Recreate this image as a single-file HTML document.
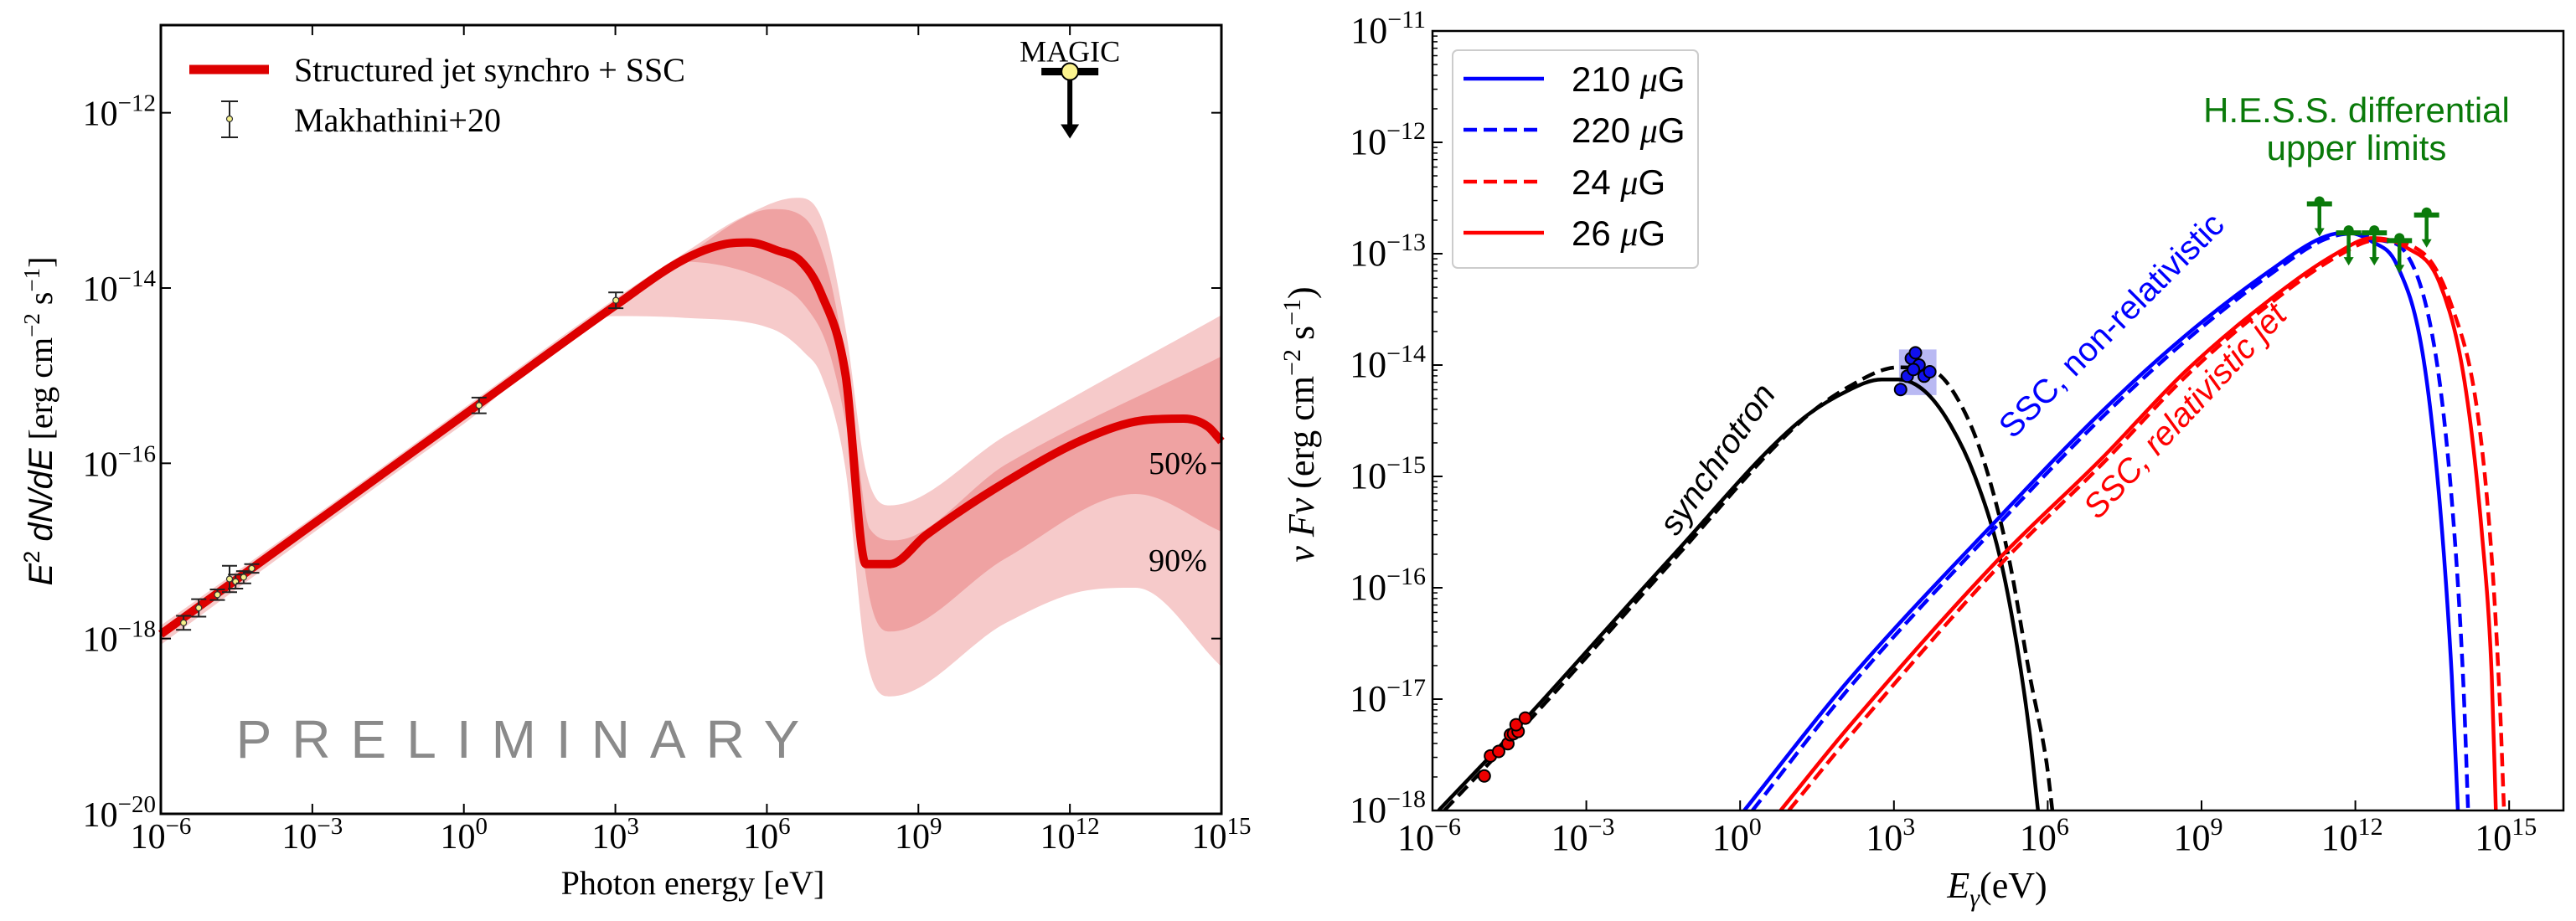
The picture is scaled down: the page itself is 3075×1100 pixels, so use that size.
<!DOCTYPE html>
<html><head><meta charset="utf-8"><style>
html,body{margin:0;padding:0;background:#fff}
svg{display:block}
.serif{font-family:"Liberation Serif",serif}
.sans{font-family:"Liberation Sans",sans-serif}
.narrow{font-family:"Liberation Sans Narrow","Liberation Sans",sans-serif}
</style></head><body>
<svg id="fig" class="serif" width="3075" height="1100" viewBox="0 0 3075 1100" xmlns="http://www.w3.org/2000/svg">
<g id="left"></g>
<g id="right"></g>
</svg>
<script>
// ---------- LEFT CHART DATA ----------
const L_curveE=[-6,-3,0,3.0,4.37,5.16,5.64,6.2,6.68,7.08,7.56,7.96,8.44,9.15,10.74,12.34,13.45,14.25,14.73,15];
const L_curveF=[-17.95,-16.7,-15.45,-14.2,-13.67,-13.5,-13.48,-13.57,-13.7,-14.07,-15.0,-17.15,-17.15,-16.82,-16.21,-15.71,-15.51,-15.49,-15.58,-15.75];
const L_up90E=[-6,-3,0,3,4.37,5.48,6.6,7.08,7.56,7.96,8.44,10.74,15];
const L_up90F=[-17.85,-16.62,-15.37,-14.12,-13.6,-13.2,-12.97,-13.2,-14.47,-16.08,-16.48,-15.68,-14.31];
const L_lo90E=[-6,-3,0,3,4.37,6.12,6.75,7.08,7.56,7.96,8.44,10.74,12.34,13.3,15];
const L_lo90F=[-18.07,-16.8,-15.55,-14.32,-14.34,-14.47,-14.74,-15.0,-16.08,-18.19,-18.66,-17.82,-17.45,-17.42,-18.32];
const L_up50E=[3,4.37,6.12,6.75,7.24,7.64,8.04,8.52,10.74,15];
const L_up50F=[-14.18,-13.64,-13.1,-13.2,-13.87,-15.14,-16.75,-16.88,-16.01,-14.78];
const L_lo50E=[3,4.37,6.12,6.75,7.24,7.64,8.04,8.44,10.74,13.3,15];
const L_lo50F=[-14.22,-13.7,-13.94,-14.2,-14.74,-15.81,-17.55,-17.92,-17.08,-16.35,-16.78];
const L_dataE=[-5.55,-5.25,-4.88,-4.64,-4.52,-4.36,-4.2,0.3,3.01];
const L_dataF=[-17.82,-17.65,-17.5,-17.32,-17.35,-17.3,-17.2,-15.34,-14.14];
const L_dataErr=[0.08,0.1,0.06,0.15,0.08,0.07,0.05,0.09,0.09];
const L_magicE=[12.0];
const L_magicF=[-11.53];
const L_xTicks=[-6,-3,0,3,6,9,12,15];
const L_yTicks=[-20,-18,-16,-14,-12];

// ---------- RIGHT CHART DATA ----------
const R_syncE=[-5.88,-4.15,-1.35,1.12,2.1,2.76,3.09,3.59,4.08,4.58,5.07,5.4,5.65,5.81];
const R_syncF=[-18,-17.16,-15.73,-14.52,-14.23,-14.13,-14.13,-14.23,-14.52,-15.0,-15.73,-16.52,-17.32,-18];
const R_syncDE=[-5.77,-4.05,-1.3,1.15,2.1,3.09,3.75,4.25,4.74,5.24,5.65,5.98,6.09];
const R_syncDF=[-18,-17.16,-15.75,-14.52,-14.2,-14.02,-14.05,-14.31,-14.84,-15.73,-16.79,-17.58,-18];
const R_b210E=[0.08,2.1,5.07,7.05,8.7,10.34,11.33,11.82,12.32,12.81,13.31,13.64,13.88,14.0];
const R_b210F=[-18,-16.84,-15.36,-14.42,-13.73,-13.15,-12.86,-12.81,-12.89,-13.1,-13.89,-15.21,-16.79,-18];
const R_b220E=[0.24,2.2,5.1,7.08,8.72,10.36,11.36,11.9,12.5,12.98,13.56,13.88,14.1,14.2];
const R_b220F=[-18,-16.86,-15.4,-14.46,-13.77,-13.18,-12.88,-12.82,-12.88,-12.99,-13.89,-15.21,-16.79,-18];
const R_r26E=[0.79,2.1,5.07,7.05,8.7,10.34,11.66,12.32,12.98,13.64,14.13,14.46,14.66,14.74];
const R_r26F=[-18,-17.26,-15.73,-14.84,-14.05,-13.41,-12.99,-12.86,-12.94,-13.26,-14.15,-15.47,-16.79,-18];
const R_r24E=[0.95,2.2,5.1,7.08,8.72,10.36,11.7,12.4,13.31,13.88,14.38,14.66,14.82,14.9];
const R_r24F=[-18,-17.3,-15.78,-14.88,-14.09,-13.44,-13.01,-12.88,-12.99,-13.47,-14.42,-15.73,-17.05,-18];
const R_xrayE=[3.13,3.26,3.34,3.42,3.49,3.59,3.7,3.38];
const R_xrayF=[-14.22,-14.1,-13.94,-13.89,-14.0,-14.1,-14.06,-14.04];
const R_radioE=[-4.99,-4.87,-4.71,-4.53,-4.48,-4.42,-4.33,-4.37,-4.19];
const R_radioF=[-17.69,-17.51,-17.47,-17.4,-17.32,-17.31,-17.29,-17.23,-17.17];
const R_hessE=[11.3,11.87,12.37,12.86,13.39];
const R_hessF=[-12.53,-12.79,-12.79,-12.86,-12.63];
const R_xTicks=[-6,-3,0,3,6,9,12,15];
const R_yTicks=[-18,-17,-16,-15,-14,-13,-12,-11];
const R_legend=["210","220","24","26"];

const NS="http://www.w3.org/2000/svg";
function el(parent,tag,attrs,text){const e=document.createElementNS(NS,tag);for(const k in attrs)e.setAttribute(k,attrs[k]);if(text!==undefined)e.textContent=text;parent.appendChild(e);return e;}
function xy(E,F,fx,fy){return E.map((e,i)=>[fx(e),fy(F[i])]);}
function mono(P){
  const n=P.length,d=[],m=[];
  for(let i=0;i<n-1;i++)d.push((P[i+1][1]-P[i][1])/(P[i+1][0]-P[i][0]));
  m[0]=d[0];m[n-1]=d[n-2];
  for(let i=1;i<n-1;i++){m[i]=(d[i-1]*d[i]<=0)?0:(d[i-1]+d[i])/2;}
  for(let i=0;i<n-1;i++){
    if(d[i]===0){m[i]=0;m[i+1]=0;continue;}
    const a=m[i]/d[i],b=m[i+1]/d[i],s=a*a+b*b;
    if(s>9){const t=3/Math.sqrt(s);m[i]=t*a*d[i];m[i+1]=t*b*d[i];}
  }
  return {d:m};
}
function curvePath(P,move){
  const Q=P[0][0]<=P[P.length-1][0]?P:P.slice().reverse();
  const m=mono(Q).d;
  const segs=[];
  for(let i=0;i<Q.length-1;i++){
    const h=(Q[i+1][0]-Q[i][0])/3;
    segs.push([Q[i],[Q[i][0]+h,Q[i][1]+m[i]*h],[Q[i+1][0]-h,Q[i+1][1]-m[i+1]*h],Q[i+1]]);
  }
  let list=segs;
  if(Q!==P){list=segs.reverse().map(s=>[s[3],s[2],s[1],s[0]]);}
  const f=v=>v[0].toFixed(1)+','+v[1].toFixed(1);
  let s=(move?'M':'L')+f(list[0][0]);
  list.forEach(g=>{s+=' C'+f(g[1])+' '+f(g[2])+' '+f(g[3]);});
  return s;
}
function bandPath(Eu,Fu,El,Fl,fx,fy){
  return curvePath(xy(Eu,Fu,fx,fy),true)+' '+curvePath(xy(El,Fl,fx,fy).reverse(),false)+' Z';
}

// ---------- LEFT ----------
const LX0=192,LX1=1458,LY0=30,LY1=972;
const lx=v=>LX0+(v+6)*(LX1-LX0)/21;
const ly=v=>LY1-(v+20)*(LY1-LY0)/9;
const left=document.getElementById('left');
let g;
g=el(left,'path',{d:bandPath(L_up90E,L_up90F,L_lo90E,L_lo90F,lx,ly),fill:'#f6caca'});


g=el(left,'path',{d:bandPath(L_up50E,L_up50F,L_lo50E,L_lo50F,lx,ly),fill:'#efa2a2'});


g=el(left,'path',{d:curvePath(xy(L_curveE,L_curveF,lx,ly),true),fill:'none',stroke:'#dd0000','stroke-width':10,'stroke-linejoin':'round'});


L_dataE.forEach((e,i)=>{
  const x=lx(e),y=ly(L_dataF[i]),y1=ly(L_dataF[i]+L_dataErr[i]),y2=ly(L_dataF[i]-L_dataErr[i]);
  const p=el(left,'g',{});
  
  
  el(p,'line',{x1:x,x2:x,y1:y1,y2:y2,stroke:'#222','stroke-width':2});
  el(p,'line',{x1:x-9,x2:x+9,y1:y1,y2:y1,stroke:'#222','stroke-width':2});
  el(p,'line',{x1:x-9,x2:x+9,y1:y2,y2:y2,stroke:'#222','stroke-width':2});
  el(p,'circle',{cx:x,cy:y,r:3.5,fill:'#f4f08a',stroke:'#333','stroke-width':1.2});
});
L_magicE.forEach((e,i)=>{
  const x=lx(e),y=ly(L_magicF[i]);
  const p=el(left,'g',{});
  
  
  el(p,'line',{x1:x-34,x2:x+34,y1:y,y2:y,stroke:'#000','stroke-width':9});
  el(p,'line',{x1:x,x2:x,y1:y,y2:y+65,stroke:'#000','stroke-width':6});
  el(p,'polygon',{points:`${x-11},${y+63} ${x+11},${y+63} ${x},${y+80}`,fill:'#000'});
  el(p,'circle',{cx:x,cy:y,r:10,fill:'#fbf38e',stroke:'#000','stroke-width':2});
  el(p,'text',{x:x,y:y-12,'text-anchor':'middle','font-size':36},'MAGIC');
});
g=el(left,'rect',{x:LX0,y:LY0,width:LX1-LX0,height:LY1-LY0,fill:'none',stroke:'#000','stroke-width':3});


L_xTicks.forEach(t=>{
  const x=lx(t);
  el(left,'line',{x1:x,x2:x,y1:LY1,y2:LY1-12,stroke:'#000','stroke-width':2});
  el(left,'line',{x1:x,x2:x,y1:LY0,y2:LY0+12,stroke:'#000','stroke-width':2});
  const tx=el(left,'text',{x:x,y:1013,'text-anchor':'middle','font-size':42});
  
  
  el(tx,'tspan',{},'10');el(tx,'tspan',{dy:-17,'font-size':29},t<0?'−'+(-t):String(t));
});
L_yTicks.forEach(t=>{
  const y=ly(t);
  el(left,'line',{x1:LX0,x2:LX0+12,y1:y,y2:y,stroke:'#000','stroke-width':2});
  el(left,'line',{x1:LX1,x2:LX1-12,y1:y,y2:y,stroke:'#000','stroke-width':2});
  const tx=el(left,'text',{x:186,y:y+15,'text-anchor':'end','font-size':42});
  
  
  el(tx,'tspan',{},'10');el(tx,'tspan',{dy:-17,'font-size':29},'−'+(-t));
});
g=el(left,'g',{});


el(g,'line',{x1:226,x2:321,y1:83,y2:83,stroke:'#dd0000','stroke-width':11});
el(g,'text',{x:351,y:97,'font-size':40},'Structured jet synchro + SSC');
el(g,'line',{x1:274,x2:274,y1:121,y2:164,stroke:'#222','stroke-width':2});
el(g,'line',{x1:264,x2:284,y1:121,y2:121,stroke:'#222','stroke-width':2});
el(g,'line',{x1:264,x2:284,y1:164,y2:164,stroke:'#222','stroke-width':2});
el(g,'circle',{cx:274,cy:142,r:3.5,fill:'#f4f08a',stroke:'#333','stroke-width':1.2});
el(g,'text',{x:351,y:157,'font-size':40},'Makhathini+20');
g=el(left,'text',{x:1406,y:566,'text-anchor':'middle','font-size':38},'50%');


g=el(left,'text',{x:1406,y:682,'text-anchor':'middle','font-size':38},'90%');


g=el(left,'text',{x:630,y:905,'text-anchor':'middle','font-size':64,fill:'#8a8a8a','letter-spacing':24,'class':'sans','font-weight':'300'},'PRELIMINARY');


g=el(left,'text',{x:827,y:1068,'text-anchor':'middle','font-size':40},'Photon energy [eV]');


g=el(left,'text',{transform:'translate(62,503) rotate(-90)','text-anchor':'middle','font-size':40});


el(g,'tspan',{'class':'sans','font-style':'italic'},'E');
el(g,'tspan',{dy:-15,'font-size':27,'class':'sans'},'2');
el(g,'tspan',{dy:15,'class':'sans','font-style':'italic'},' dN/dE');
el(g,'tspan',{},' [erg cm');
el(g,'tspan',{dy:-15,'font-size':27},'−2');
el(g,'tspan',{dy:15},' s');
el(g,'tspan',{dy:-15,'font-size':27},'−1');
el(g,'tspan',{dy:15},']');

// ---------- RIGHT ----------
const RX0=1710,RX1=3060,RY0=37,RY1=968,RDEC=61.2;
const rx=v=>RX0+(v+6)*RDEC;
const ry=v=>RY1-(v+18)*(RY1-RY0)/7;
const right=document.getElementById('right');
el(right,'defs',{}).innerHTML='<clipPath id="rclip"><rect x="1710" y="37" width="1350" height="931"/></clipPath>';
const rp=el(right,'g',{'clip-path':'url(#rclip)'});
g=el(rp,'polygon',{points:`${rx(3.1)},${ry(-13.86)} ${rx(3.83)},${ry(-13.86)} ${rx(3.83)},${ry(-14.27)} ${rx(3.1)},${ry(-14.27)}`,fill:'#a8a8f0',opacity:0.8});


function rline(E,F,color,dash,name){
  const p=el(rp,'path',{d:curvePath(xy(E,F,rx,ry),true),fill:'none',stroke:color,'stroke-width':4.5,'stroke-linejoin':'round'});
  if(dash)p.setAttribute('stroke-dasharray','16 8');
  
  
}
rline(R_syncE,R_syncF,'#000',false,'synchrotron-solid');
rline(R_syncDE,R_syncDF,'#000',true,'synchrotron-dashed');
rline(R_b210E,R_b210F,'#0000ff',false,'ssc-210uG');
rline(R_b220E,R_b220F,'#0000ff',true,'ssc-220uG');
rline(R_r26E,R_r26F,'#ff0000',false,'ssc-26uG');
rline(R_r24E,R_r24F,'#ff0000',true,'ssc-24uG');
R_xrayE.forEach((e,i)=>{
  const c=el(rp,'circle',{cx:rx(e),cy:ry(R_xrayF[i]),r:7,fill:'#1010ee',stroke:'#000','stroke-width':2});
  
  
});
R_radioE.forEach((e,i)=>{
  const c=el(rp,'circle',{cx:rx(e),cy:ry(R_radioF[i]),r:7,fill:'#ee0000',stroke:'#000','stroke-width':2});
  
  
});
R_hessE.forEach((e,i)=>{
  const x=rx(e),y=ry(R_hessF[i]);
  const p=el(rp,'g',{});
  
  
  el(p,'line',{x1:x-15,x2:x+15,y1:y+3,y2:y+3,stroke:'#0a7a0a','stroke-width':6});
  el(p,'line',{x1:x,x2:x,y1:y,y2:y+33,stroke:'#0a7a0a','stroke-width':4.5});
  el(p,'polygon',{points:`${x-6},${y+32} ${x+6},${y+32} ${x},${y+42}`,fill:'#0a7a0a'});
  el(p,'circle',{cx:x,cy:y,r:6,fill:'#0a7a0a'});
});
g=el(right,'rect',{x:RX0,y:RY0,width:RX1-RX0,height:RY1-RY0,fill:'none',stroke:'#000','stroke-width':2.5});


R_xTicks.forEach(t=>{
  const x=rx(t);
  el(right,'line',{x1:x,x2:x,y1:RY1,y2:RY1-12,stroke:'#000','stroke-width':2});
  const tx=el(right,'text',{x:x-4,y:1015,'text-anchor':'middle','font-size':44});
  
  
  el(tx,'tspan',{},'10');el(tx,'tspan',{dy:-18,'font-size':30},t<0?'−'+(-t):String(t));
});
R_yTicks.forEach((t,i)=>{
  const y=ry(t);
  el(right,'line',{x1:RX0,x2:RX0+12,y1:y,y2:y,stroke:'#000','stroke-width':2});
  if(i<R_yTicks.length-1){for(let m=2;m<10;m++){const yy=ry(t+Math.log10(m));el(right,'line',{x1:RX0,x2:RX0+6,y1:yy,y2:yy,stroke:'#000','stroke-width':1.5});}}
  const tx=el(right,'text',{x:1702,y:y+14,'text-anchor':'end','font-size':44});
  
  
  el(tx,'tspan',{},'10');el(tx,'tspan',{dy:-18,'font-size':30},'−'+(-t));
});
g=el(right,'g',{});


el(g,'rect',{x:1734,y:60,width:293,height:260,rx:6,fill:'#fff',stroke:'#ccc','stroke-width':2});
const legCol=['#0000ff','#0000ff','#ff0000','#ff0000'],legDash=[false,true,true,false],legY=[94,155,217,278];
R_legend.forEach((s,i)=>{
  const ln=el(g,'line',{x1:1747,x2:1843,y1:legY[i],y2:legY[i],stroke:legCol[i],'stroke-width':4.5});
  if(legDash[i])ln.setAttribute('stroke-dasharray','16 8');
  const tx=el(g,'text',{x:1876,y:legY[i]+15,'font-size':42,'class':'narrow'});
  el(tx,'tspan',{},s+' ');el(tx,'tspan',{'font-style':'italic','class':'serif'},'μ');el(tx,'tspan',{},'G');
});
function rtext(txt,x,y,ang,col,name,extra){
  const t=el(right,'text',Object.assign({transform:`translate(${x},${y}) rotate(${ang})`,'text-anchor':'middle','font-size':40,fill:col,'class':'sans'},extra||{}),txt);
  
  
}
rtext('synchrotron',2061,556,-55,'#000','synchrotron-label',{'font-style':'italic'});
rtext('SSC, non-relativistic',2530,398,-45,'#0000ff','ssc-nonrel-label');
rtext('SSC, relativistic jet',2618,500,-47,'#ff0000','ssc-rel-label',{'font-style':'italic'});
rtext('H.E.S.S. differential',2813,146,0,'#0a7a0a','hess-label-1',{'font-size':42,'class':'narrow'});
rtext('upper limits',2813,191,0,'#0a7a0a','hess-label-2',{'font-size':42,'class':'narrow'});
g=el(right,'text',{x:2384,y:1072,'text-anchor':'middle','font-size':44});


el(g,'tspan',{'font-style':'italic'},'E');el(g,'tspan',{dy:10,'font-size':30,'font-style':'italic'},'γ');el(g,'tspan',{dy:-10},'(eV)');
g=el(right,'text',{transform:'translate(1568,507) rotate(-90)','text-anchor':'middle','font-size':44});


el(g,'tspan',{'font-style':'italic'},'ν Fν');
el(g,'tspan',{},' (erg cm');
el(g,'tspan',{dy:-16,'font-size':30},'−2');
el(g,'tspan',{dy:16},' s');
el(g,'tspan',{dy:-16,'font-size':30},'−1');
el(g,'tspan',{dy:16},')');
</script>
</body></html>
